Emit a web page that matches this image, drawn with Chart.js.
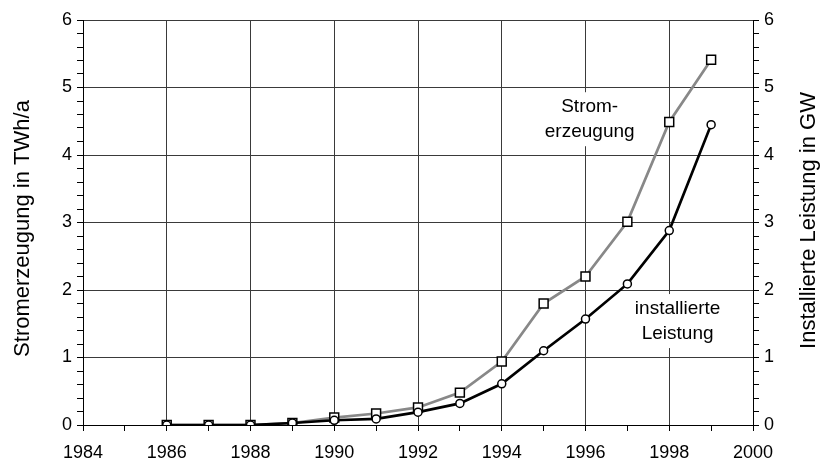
<!DOCTYPE html>
<html lang="de">
  <head>
    <meta charset="UTF-8" />
    <title>Windenergie in Deutschland</title>
    <script src="https://cdn.jsdelivr.net/npm/chart.js"></script>
    <style>
      body {
        margin: 0;
        background: #fff;
      }
      #wrap {
        width: 820px;
        height: 463px;
      }
    </style>
  </head>
  <body>
    <div id="wrap"><canvas id="chart" width="820" height="463"></canvas></div>

    <script>
      const years = [1986, 1987, 1988, 1989, 1990, 1991, 1992, 1993, 1994, 1995, 1996, 1997, 1998, 1999];
      // Stromerzeugung in TWh/a (linke Achse)
      const erzeugung = [0, 0, 0, 0.03, 0.11, 0.17, 0.26, 0.48, 0.94, 1.8, 2.2, 3.01, 4.49, 5.41];
      // installierte Leistung in GW (rechte Achse)
      const leistung = [0, 0, 0, 0.03, 0.07, 0.09, 0.19, 0.32, 0.61, 1.1, 1.57, 2.09, 2.88, 4.45];

      const leftTitle = "Stromerzeugung in TWh/a";
      const rightTitle = "Installierte Leistung in GW";
      const labelErzeugung = ["Strom-", "erzeugung"];
      const labelLeistung = ["installierte", "Leistung"];

      const FONT = '"Liberation Sans", Arial, sans-serif';
      const isInt = (v) => Math.abs(v - Math.round(v)) < 1e-6;

      // Achsentitel und Beschriftungen im Diagramm
      const textPlugin = {
        id: "texts",
        beforeDatasetsDraw(chart) {
          const { ctx, scales } = chart;
          const boxLabel = (lines, xv, yv) => {
            const x = scales.x.getPixelForValue(xv);
            const y = scales.y.getPixelForValue(yv);
            const lh = 25;
            ctx.save();
            ctx.font = "19px " + FONT;
            const w = Math.max(...lines.map((l) => ctx.measureText(l).width));
            const h = lh * lines.length;
            ctx.fillStyle = "#fff";
            ctx.fillRect(x - w / 2 - 4, y - h / 2 - 2, w + 8, h + 4);
            ctx.fillStyle = "#000";
            ctx.textAlign = "center";
            ctx.textBaseline = "middle";
            lines.forEach((l, i) => {
              ctx.fillText(l, x, y - h / 2 + lh / 2 + i * lh);
            });
            ctx.restore();
          };
          boxLabel(labelErzeugung, 1996.1, 4.53);
          boxLabel(labelLeistung, 1998.2, 1.54);
        },
        afterDraw(chart) {
          const { ctx, chartArea } = chart;
          const mid = (chartArea.top + chartArea.bottom) / 2;
          ctx.save();
          ctx.font = "22px " + FONT;
          ctx.fillStyle = "#000";
          ctx.textAlign = "center";
          ctx.textBaseline = "middle";
          ctx.translate(23, mid + 6);
          ctx.rotate(-Math.PI / 2);
          ctx.fillText(leftTitle, 0, 0);
          ctx.restore();
          ctx.save();
          ctx.font = "22px " + FONT;
          ctx.fillStyle = "#000";
          ctx.textAlign = "center";
          ctx.textBaseline = "middle";
          ctx.translate(809, mid - 2);
          ctx.rotate(-Math.PI / 2);
          ctx.fillText(rightTitle, 0, 0);
          ctx.restore();
        },
      };

      const yTicks = {
        stepSize: 0.2,
        autoSkip: false,
        color: "#000",
        font: { family: FONT, size: 18 },
        padding: 5,
        callback: (v) => (isInt(v) ? String(Math.round(v)) : ""),
      };

      new Chart(document.getElementById("chart"), {
        type: "line",
        data: {
          datasets: [
            {
              label: "installierte Leistung",
              data: years.map((y, i) => ({ x: y, y: leistung[i] })),
              yAxisID: "y1",
              borderColor: "#000",
              borderWidth: 2.7,
              pointStyle: "circle",
              pointRadius: 4,
              pointBackgroundColor: "#fff",
              pointBorderColor: "#000",
              pointBorderWidth: 1.5,
              tension: 0,
              order: 0,
            },
            {
              label: "Stromerzeugung",
              data: years.map((y, i) => ({ x: y, y: erzeugung[i] })),
              yAxisID: "y",
              borderColor: "#888",
              borderWidth: 2.7,
              pointStyle: "rect",
              pointRadius: 6.3,
              pointBackgroundColor: "#fff",
              pointBorderColor: "#000",
              pointBorderWidth: 1.5,
              tension: 0,
              order: 1,
            },
          ],
        },
        options: {
          responsive: false,
          animation: false,
          layout: { padding: { top: 20, left: 0, right: 0, bottom: 0 } },
          plugins: {
            legend: { display: false },
            tooltip: { enabled: false },
          },
          scales: {
            x: {
              type: "linear",
              min: 1984,
              max: 2000,
              afterFit: (s) => {
                s.height = 38;
              },
              ticks: {
                stepSize: 1,
                autoSkip: false,
                maxRotation: 0,
                color: "#000",
                font: { family: FONT, size: 18 },
                padding: 11,
                callback: (v) => (v % 2 === 0 ? String(v) : ""),
              },
              grid: {
                color: (c) => (c.tick && c.tick.value % 2 === 0 ? "#3a3a3a" : "rgba(0,0,0,0)"),
                tickColor: "#000",
                tickLength: 6,
              },
              border: { color: "#000", width: 1 },
            },
            y: {
              position: "left",
              min: 0,
              max: 6,
              afterFit: (s) => {
                s.width = 83;
              },
              ticks: yTicks,
              grid: {
                color: (c) => (c.tick && isInt(c.tick.value) ? "#3a3a3a" : "rgba(0,0,0,0)"),
                tickColor: "#000",
                tickLength: 6,
              },
              border: { color: "#000", width: 1 },
            },
            y1: {
              position: "right",
              min: 0,
              max: 6,
              afterFit: (s) => {
                s.width = 67;
              },
              ticks: yTicks,
              grid: {
                drawOnChartArea: false,
                tickColor: "#000",
                tickLength: 6,
              },
              border: { color: "#000", width: 1 },
            },
          },
        },
        plugins: [textPlugin],
      });
    </script>
  </body>
</html>
